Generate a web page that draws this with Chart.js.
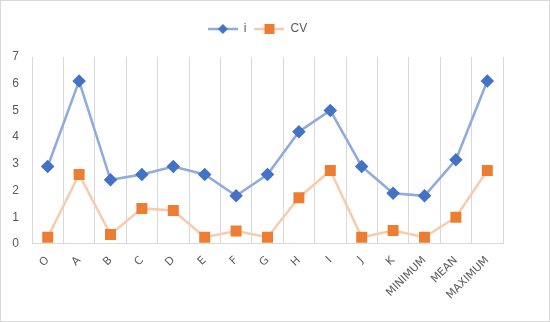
<!DOCTYPE html>
<html><head><meta charset="utf-8">
<script src="https://cdn.jsdelivr.net/npm/chart.js@4"></script>
<style>
html,body{margin:0;padding:0;background:#fff;}
#wrap{position:absolute;left:0;top:0;width:548px;height:320px;border:1px solid #d9d9d9;}
</style></head><body>
<div id="wrap"><canvas id="c" width="548" height="320"></canvas></div>
<script>
const categories = ["O","A","B","C","D","E","F","G","H","I","J","K","MINIMUM","MEAN","MAXIMUM"];
const seriesI = [2.9,6.1,2.4,2.6,2.9,2.6,1.8,2.6,4.2,5.0,2.9,1.9,1.8,3.15,6.1];
const seriesCV = [0.25,2.6,0.35,1.33,1.25,0.25,0.48,0.25,1.73,2.75,0.25,0.5,0.25,1.0,2.75];
const yTicks = [0,1,2,3,4,5,6,7];

function legendIcon(lineColor, markColor, shape){
  const cv = document.createElement('canvas');
  cv.width = 30; cv.height = 12;
  const g = cv.getContext('2d');
  g.strokeStyle = lineColor; g.lineWidth = 2.5;
  g.beginPath(); g.moveTo(0,6); g.lineTo(30,6); g.stroke();
  g.fillStyle = markColor;
  if (shape === 'diamond'){
    g.beginPath(); g.moveTo(15,1); g.lineTo(20,6); g.lineTo(15,11); g.lineTo(10,6); g.closePath(); g.fill();
  } else {
    g.fillRect(10,1,10,10);
  }
  return cv;
}
const icons = [legendIcon('#8faadc','#4472c4','diamond'), legendIcon('#f8cbad','#ed7d31','square')];

const legendGap = {
  id:'legendGap',
  beforeLayout(chart){
    const lg = chart.legend;
    if (lg && !lg._patched){
      const orig = lg.fit;
      lg.fit = function(){ orig.call(this); this.height += 12; };
      lg._patched = true;
    }
    ['x','y'].forEach(k=>{
      const s = chart.scales[k];
      if (s && !s._padPatched){
        const og = s.getPadding ? s.getPadding.bind(s) : null;
        s.getPadding = function(){ const p = og ? og() : {}; return {left:0, right:0, top:p.top||0, bottom:p.bottom||0}; };
        s._padPatched = true;
      }
    });
  }
};

Chart.defaults.font.family = "'Liberation Sans', Arial, sans-serif";
new Chart(document.getElementById('c'), {
  type: 'line',
  data: {
    labels: categories,
    datasets: [
      {label:'i', data: seriesI, borderColor:'#8faadc', backgroundColor:'#4472c4', pointBorderColor:'#4472c4', pointBackgroundColor:'#4472c4', pointStyle:'rectRot', pointRadius:5, borderWidth:2.5, tension:0},
      {label:'CV', data: seriesCV, borderColor:'#f8cbad', backgroundColor:'#ed7d31', pointBorderColor:'#ed7d31', pointBackgroundColor:'#ed7d31', pointStyle:'rect', pointRadius:6, borderWidth:2.5, tension:0}
    ]
  },
  plugins:[legendGap],
  options: {
    responsive:false, animation:false,
    layout:{padding:{left:11,right:46,top:14,bottom:9}},
    plugins:{
      legend:{position:'top', labels:{usePointStyle:true, pointStyleWidth:30, color:'#595959', font:{size:12}, padding:8,
        generateLabels:(chart)=>{
          const items = Chart.defaults.plugins.legend.labels.generateLabels(chart);
          items.forEach((it,i)=>{ it.pointStyle = icons[i]; });
          return items;
        }}},
      tooltip:{enabled:false}
    },
    scales:{
      x:{offset:true, grid:{display:true, offset:true, color:'#d9d9d9', drawTicks:false}, border:{display:true,color:'#d9d9d9'},
         ticks:{color:'#595959', font:{size:11, family:"'DejaVu Sans', sans-serif"}, maxRotation:45, minRotation:45, padding:10, autoSkip:false}},
      y:{min:0, max:7, afterBuildTicks:(s)=>{s.ticks = yTicks.map(v=>({value:v}));}, grid:{display:false, drawTicks:false}, border:{display:false},
         afterFit:(s)=>{ s.width = 20; },
         ticks:{color:'#595959', font:{size:12}, padding:13}}
    }
  }
});
</script>
</body></html>
